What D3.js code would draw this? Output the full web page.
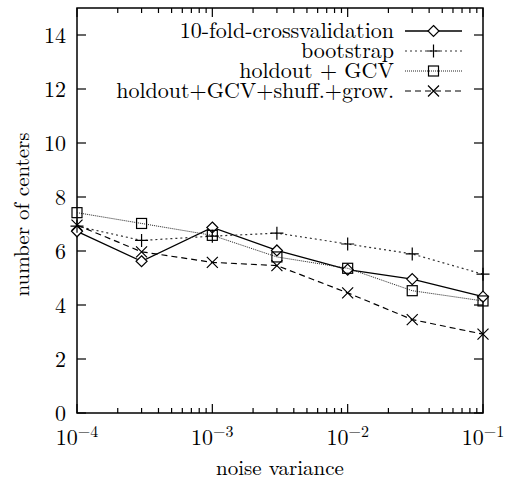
<!DOCTYPE html>
<html>
<head>
<meta charset="utf-8">
<script src="https://cdn.jsdelivr.net/npm/d3@7"></script>
<style>
  body { margin: 0; background: #fff; }
  svg text { font-family: "Latin Modern Roman", "Liberation Serif", serif; fill: #000; }
</style>
</head>
<body>
<div id="chart"></div>
<script>
// noise variance values (x) and number of centers per method
const noise = [1e-4, 3e-4, 1e-3, 3e-3, 1e-2, 3e-2, 1e-1]
const crossval = [6.73, 5.62, 6.87, 6.02, 5.31, 4.96, 4.31]
const bootstrap = [6.92, 6.39, 6.55, 6.66, 6.26, 5.89, 5.14]
const holdout = [7.42, 7.02, 6.58, 5.78, 5.36, 4.53, 4.15]
const shuffled = [6.96, 5.97, 5.58, 5.46, 4.45, 3.46, 2.92]

const yTicks = [0, 2, 4, 6, 8, 10, 12, 14]
const xTickExp = [-4, -3, -2, -1]

const series = [
  { name: '10-fold-crossvalidation', values: crossval, dash: null, stroke: '#000', width: 1.3, marker: 'diamond' },
  { name: 'bootstrap', values: bootstrap, dash: '2,3', stroke: '#333', width: 1.2, marker: 'plus' },
  { name: 'holdout + GCV', values: holdout, dash: '1,1', stroke: '#222', width: 1, marker: 'square' },
  { name: 'holdout+GCV+shuff.+grow.', values: shuffled, dash: '6,4', stroke: '#000', width: 1.2, marker: 'cross' }
]

const width = 511
const height = 483
const margin = { top: 8, right: 28, bottom: 70, left: 77 }

const svg = d3.select('#chart').append('svg')
  .attr('width', width)
  .attr('height', height)

const x = d3.scaleLog()
  .domain([1e-4, 1e-1])
  .range([margin.left, width - margin.right])

const y = d3.scaleLinear()
  .domain([0, 15])
  .range([height - margin.bottom, margin.top])

const x0 = x.range()[0], x1 = x.range()[1]
const y0 = y.range()[0], y1 = y.range()[1]

// ticks on all four sides, pointing inward
const minor = x.ticks().filter(d => !xTickExp.some(e => Math.abs(d - Math.pow(10, e)) < 1e-12))
const tickG = svg.append('g').attr('stroke', '#000').attr('stroke-width', 1.2)
yTicks.forEach(v => {
  tickG.append('line').attr('x1', x0).attr('x2', x0 + 9).attr('y1', y(v)).attr('y2', y(v))
  tickG.append('line').attr('x1', x1).attr('x2', x1 - 9).attr('y1', y(v)).attr('y2', y(v))
})
xTickExp.forEach(e => {
  const px = x(Math.pow(10, e))
  tickG.append('line').attr('x1', px).attr('x2', px).attr('y1', y0).attr('y2', y0 - 9)
  tickG.append('line').attr('x1', px).attr('x2', px).attr('y1', y1).attr('y2', y1 + 9)
})
minor.forEach(v => {
  const px = x(v)
  tickG.append('line').attr('x1', px).attr('x2', px).attr('y1', y0).attr('y2', y0 - 5)
  tickG.append('line').attr('x1', px).attr('x2', px).attr('y1', y1).attr('y2', y1 + 5)
})

// frame
svg.append('rect')
  .attr('x', x0).attr('y', y1)
  .attr('width', x1 - x0).attr('height', y0 - y1)
  .attr('fill', 'none').attr('stroke', '#000').attr('stroke-width', 1.5)

// y tick labels
svg.append('g').selectAll('text')
  .data(yTicks)
  .enter().append('text')
    .attr('x', x0 - 11)
    .attr('y', d => y(d) + 7.5)
    .attr('text-anchor', 'end')
    .attr('font-size', 22)
    .text(d => d)

// x tick labels as 10^e
const xl = svg.append('g').selectAll('text')
  .data(xTickExp)
  .enter().append('text')
    .attr('x', d => x(Math.pow(10, d)))
    .attr('y', 445)
    .attr('text-anchor', 'middle')
    .attr('font-size', 22)
xl.append('tspan').text('10')
xl.append('tspan').attr('dy', -8).attr('font-size', 16).text(d => '\u2212' + Math.abs(d))

// axis titles
svg.append('text')
  .attr('x', (x0 + x1) / 2)
  .attr('y', 475)
  .attr('text-anchor', 'middle')
  .attr('font-size', 21)
  .text('noise variance')

svg.append('text')
  .attr('transform', `translate(29,${(y0 + y1) / 2 + 4}) rotate(-90)`)
  .attr('text-anchor', 'middle')
  .attr('font-size', 21)
  .text('number of centers')

// marker drawing
function drawMarker(g, type, cx, cy) {
  const m = g.append('g').attr('transform', `translate(${cx},${cy})`)
    .attr('stroke', '#000').attr('stroke-width', 1.2).attr('fill', 'none')
  if (type === 'diamond') m.append('path').attr('d', 'M0,-5.5L5.5,0L0,5.5L-5.5,0Z').attr('fill', '#fff')
  if (type === 'square') m.append('rect').attr('x', -5).attr('y', -5).attr('width', 10).attr('height', 10)
  if (type === 'plus') m.append('path').attr('d', 'M-6.5,0H6.5M0,-6.5V6.5')
  if (type === 'cross') m.append('path').attr('d', 'M-5.5,-5.5L5.5,5.5M-5.5,5.5L5.5,-5.5')
}

const line = d3.line()
  .x((d, i) => x(noise[i]))
  .y(d => y(d))

series.forEach(s => {
  const g = svg.append('g')
  g.append('path')
    .datum(s.values)
    .attr('d', line)
    .attr('fill', 'none')
    .attr('stroke', s.stroke)
    .attr('stroke-width', s.width)
    .attr('stroke-dasharray', s.dash)
  s.values.forEach((v, i) => drawMarker(g, s.marker, x(noise[i]), y(v)))
})

// legend
const legend = svg.append('g')
series.forEach((s, i) => {
  const ly = 31 + i * 20
  legend.append('text')
    .attr('x', 394)
    .attr('y', ly + 6.5)
    .attr('text-anchor', 'end')
    .attr('font-size', 22)
    .text(s.name)
  legend.append('line')
    .attr('x1', 405).attr('x2', 462)
    .attr('y1', ly).attr('y2', ly)
    .attr('stroke', s.stroke)
    .attr('stroke-width', s.width)
    .attr('stroke-dasharray', s.dash)
  drawMarker(legend, s.marker, 433.5, ly)
})
</script>
</body>
</html>
